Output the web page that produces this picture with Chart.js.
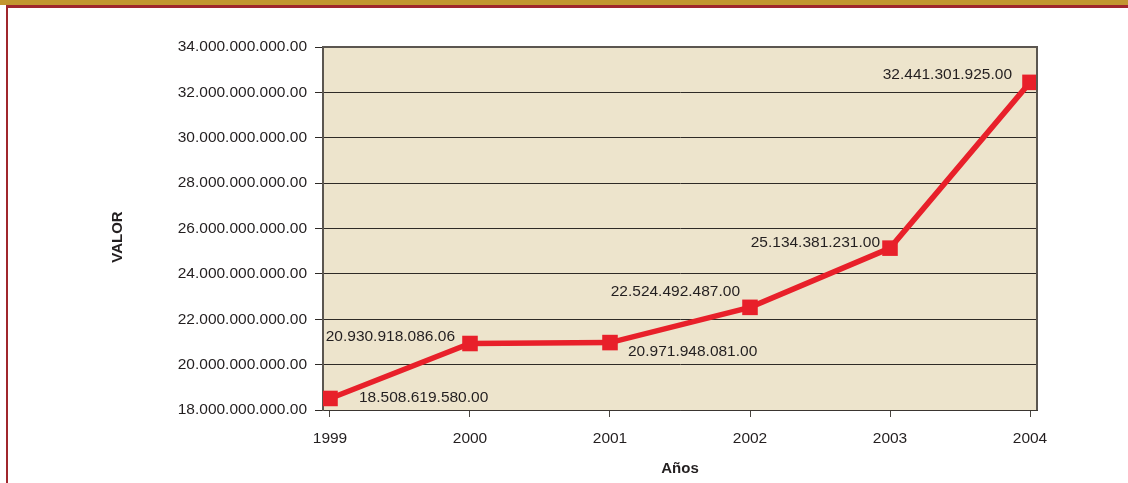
<!DOCTYPE html>
<html>
<head>
<meta charset="utf-8">
<script src="https://cdn.jsdelivr.net/npm/chart.js@4"></script>
<style>
  html, body { margin: 0; padding: 0; background: #fff; }
  #wrap { position: relative; width: 1128px; height: 483px; overflow: hidden; }
  #topGold { position: absolute; left: 0; top: 0; width: 1128px; height: 5px; background: #c2962f; }
  #topRed { position: absolute; left: 6px; top: 5px; width: 1122px; height: 3px; background: #a0262c; }
  #leftRed { position: absolute; left: 6px; top: 5px; width: 2px; height: 478px; background: #a0262c; }
  canvas { position: absolute; left: 0; top: 0; }
</style>
</head>
<body>
<div id="wrap">
  <canvas id="valorChart" width="1128" height="483"></canvas>
  <div id="topGold"></div>
  <div id="topRed"></div>
  <div id="leftRed"></div>
</div>
<script>
// data
var years = [1999, 2000, 2001, 2002, 2003, 2004];
var valores = [18508619580.00, 20930918086.06, 20971948081.00, 22524492487.00, 25134381231.00, 32441301925.00];
var yTicks = [18e9, 20e9, 22e9, 24e9, 26e9, 28e9, 30e9, 32e9, 34e9];

// where each value label sits relative to its point
var labelPlace = [
  { dx: 29, dy: -1, align: 'left' },
  { dx: -15, dy: -7, align: 'right' },
  { dx: 18, dy: 9, align: 'left' },
  { dx: -10, dy: -16, align: 'right' },
  { dx: -10, dy: -5, align: 'right' },
  { dx: -18, dy: -8, align: 'right' }
];

var FONT = '"Liberation Sans", Arial, sans-serif';
var TXT = '#231f20';

function fmt(v) {
  var parts = v.toFixed(2).split('.');
  return parts[0].replace(/\B(?=(\d{3})+(?!\d))/g, '.') + '.' + parts[1];
}

var plotBox = {
  id: 'plotBox',
  beforeDraw: function (chart) {
    var a = chart.chartArea, ctx = chart.ctx;
    ctx.save();
    ctx.fillStyle = '#ede4cc';
    ctx.fillRect(a.left, a.top, a.right - a.left, a.bottom - a.top);
    ctx.restore();
  },
  afterDraw: function (chart) {
    var a = chart.chartArea, ctx = chart.ctx;
    ctx.save();
    ctx.strokeStyle = '#5b5650';
    ctx.lineWidth = 2;
    ctx.beginPath();
    ctx.moveTo(a.left, a.top);
    ctx.lineTo(a.right, a.top);
    ctx.lineTo(a.right, a.bottom);
    ctx.stroke();
    // y axis title
    ctx.translate(118, 237);
    ctx.rotate(-Math.PI / 2);
    ctx.font = 'bold 15px ' + FONT;
    ctx.fillStyle = TXT;
    ctx.textAlign = 'center';
    ctx.textBaseline = 'middle';
    ctx.fillText('VALOR', 0, 0);
    ctx.restore();
  }
};

var valueLabels = {
  id: 'valueLabels',
  afterDatasetsDraw: function (chart) {
    var ctx = chart.ctx;
    var meta = chart.getDatasetMeta(0);
    ctx.save();
    ctx.font = '15.5px ' + FONT;
    ctx.fillStyle = TXT;
    ctx.textBaseline = 'middle';
    meta.data.forEach(function (pt, i) {
      var p = labelPlace[i];
      ctx.textAlign = p.align;
      ctx.fillText(fmt(valores[i]), pt.x + p.dx, pt.y + p.dy);
    });
    ctx.restore();
  }
};

new Chart(document.getElementById('valorChart'), {
  type: 'line',
  data: {
    datasets: [
      {
        label: 'VALOR',
        data: years.map(function (y, i) { return { x: y, y: valores[i] }; }),
        borderColor: '#e8202a',
        backgroundColor: '#e8202a',
        borderWidth: 5.5,
        pointStyle: 'rect',
        pointRadius: 11,
        pointHoverRadius: 11,
        pointBorderWidth: 0,
        tension: 0,
        fill: false
      }
    ]
  },
  options: {
    responsive: false,
    animation: false,
    layout: { padding: { left: 0, top: 47, right: 91, bottom: 0 } },
    plugins: {
      legend: { display: false },
      tooltip: { enabled: false }
    },
    scales: {
      x: {
        type: 'linear',
        min: 1998.95,
        max: 2004.05,
        afterBuildTicks: function (scale) {
          scale.ticks = years.map(function (y) { return { value: y }; });
        },
        afterFit: function (scale) { scale.height = 73; },
        grid: { drawOnChartArea: false, drawTicks: true, tickLength: 7, color: '#4a4540' },
        border: { display: true, color: '#3a3530', width: 1 },
        ticks: {
          padding: 12,
          color: TXT,
          font: { family: FONT, size: 15.5 },
          callback: function (v) { return String(v); }
        },
        title: {
          display: true,
          text: 'Años',
          color: TXT,
          font: { family: FONT, size: 15, weight: 'bold' },
          padding: { top: 0, bottom: 5 }
        }
      },
      y: {
        min: 18e9,
        max: 34e9,
        afterBuildTicks: function (scale) {
          scale.ticks = yTicks.map(function (v) { return { value: v }; });
        },
        afterFit: function (scale) { scale.width = 323; },
        grid: { color: '#2e2a26', lineWidth: 1, tickLength: 8 },
        border: { display: true, color: '#5b5650', width: 2 },
        ticks: {
          padding: 8,
          color: TXT,
          font: { family: FONT, size: 15.5 },
          callback: function (v) { return fmt(v); }
        },
        title: { display: false }
      }
    }
  },
  plugins: [plotBox, valueLabels]
});
</script>
</body>
</html>
